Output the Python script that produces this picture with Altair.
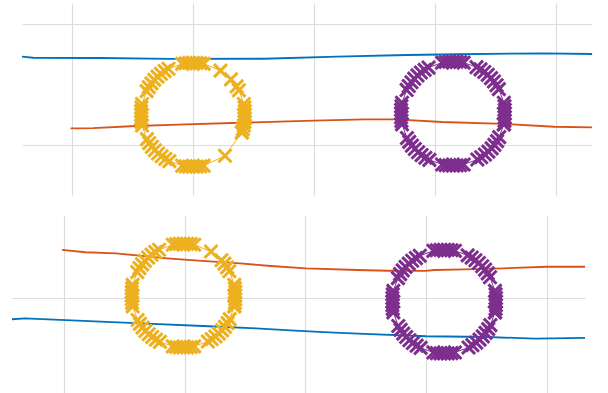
import altair as alt
import pandas as pd

BLUE = "#0072BD"
ORANGE = "#D95319"
YELLOW = "#EDB120"
PURPLE = "#7E2F8E"
GRID = "#dcdcdc"

# ---------------- top panel ----------------
top_blue_x = [-0.414, -0.323, 0.232, 0.811, 1.588, 2.192, 2.771, 3.184, 3.896, 4.301]
top_blue_y = [0.730, 0.721, 0.719, 0.711, 0.713, 0.730, 0.744, 0.750, 0.758, 0.752]

top_orange_x = [-0.012, 0.174, 0.529, 0.877, 1.390, 2.002, 2.415, 2.672, 3.060, 3.573, 3.987, 4.301]
top_orange_y = [0.138, 0.140, 0.157, 0.168, 0.184, 0.201, 0.212, 0.212, 0.190, 0.174, 0.151, 0.146]

top_yellow_x = [1.404, 1.413, 1.421, 1.426, 1.429, 1.430, 1.429, 1.426, 1.421, 1.380, 1.361, 1.315, 1.228,
                1.089, 1.060, 1.030, 1.000, 0.970, 0.940, 0.911, 0.798, 0.766, 0.735, 0.707, 0.680, 0.657,
                0.635, 0.617, 0.579, 0.574, 0.571, 0.570, 0.571, 0.574, 0.579, 0.620, 0.639, 0.661, 0.685,
                0.712, 0.741, 0.772, 0.805, 0.911, 0.940, 0.970, 1.000, 1.030, 1.060, 1.089, 1.265, 1.404]
top_yellow_y = [0.103, 0.131, 0.161, 0.190, 0.220, 0.250, 0.280, 0.310, 0.339, 0.452, 0.484, 0.543, 0.615,
                0.671, 0.676, 0.679, 0.680, 0.679, 0.676, 0.671, 0.630, 0.611, 0.589, 0.565, 0.538, 0.509,
                0.478, 0.445, 0.339, 0.310, 0.280, 0.250, 0.220, 0.190, 0.161, 0.048, 0.016, -0.015, -0.043,
                -0.070, -0.093, -0.115, -0.133, -0.171, -0.176, -0.179, -0.180, -0.179, -0.176, -0.171, -0.089, 0.103]

top_purple_x = [3.571, 3.576, 3.579, 3.580, 3.579, 3.576, 3.571, 3.530, 3.511, 3.489, 3.465, 3.438, 3.409,
                3.378, 3.345, 3.239, 3.210, 3.180, 3.150, 3.120, 3.090, 3.061, 2.948, 2.916, 2.885, 2.857,
                2.830, 2.807, 2.785, 2.767, 2.729, 2.724, 2.721, 2.720, 2.721, 2.724, 2.729, 2.770, 2.789,
                2.811, 2.835, 2.862, 2.891, 2.922, 2.955, 3.061, 3.090, 3.120, 3.150, 3.180, 3.210, 3.239,
                3.352, 3.384, 3.415, 3.443, 3.470, 3.493, 3.515, 3.533, 3.571]
top_purple_y = [0.171, 0.200, 0.230, 0.260, 0.290, 0.320, 0.349, 0.462, 0.494, 0.525, 0.553, 0.580, 0.603,
                0.625, 0.643, 0.681, 0.686, 0.689, 0.690, 0.689, 0.686, 0.681, 0.640, 0.621, 0.599, 0.575,
                0.548, 0.519, 0.488, 0.455, 0.349, 0.320, 0.290, 0.260, 0.230, 0.200, 0.171, 0.058, 0.026,
                -0.005, -0.033, -0.060, -0.083, -0.105, -0.123, -0.161, -0.166, -0.169, -0.170, -0.169, -0.166,
                -0.161, -0.120, -0.101, -0.079, -0.055, -0.028, 0.001, 0.032, 0.065, 0.171]

# ---------------- bottom panel ----------------
bot_blue_x = [-0.431, -0.323, 0.112, 0.688, 1.201, 1.591, 1.914, 2.196, 2.485, 2.999, 3.513, 3.902, 4.317]
bot_blue_y = [-0.176, -0.168, -0.188, -0.213, -0.234, -0.251, -0.271, -0.284, -0.298, -0.317, -0.323, -0.337, -0.331]

bot_orange_x = [-0.017, 0.176, 0.431, 0.853, 1.143, 1.458, 1.715, 2.005, 2.428, 2.684, 2.999, 3.065, 3.322,
                3.645, 4.002, 4.317]
bot_orange_y = [0.398, 0.379, 0.370, 0.329, 0.307, 0.287, 0.265, 0.246, 0.232, 0.226, 0.224, 0.232, 0.238,
                0.246, 0.259, 0.259]

bot_yellow_x = [1.411, 1.416, 1.419, 1.420, 1.419, 1.416, 1.411, 1.370, 1.351, 1.329, 1.305, 1.218, 1.079,
                1.050, 1.020, 0.990, 0.960, 0.930, 0.901, 0.788, 0.756, 0.725, 0.697, 0.670, 0.647, 0.625,
                0.607, 0.569, 0.564, 0.561, 0.560, 0.561, 0.564, 0.569, 0.610, 0.629, 0.651, 0.675, 0.702,
                0.731, 0.762, 0.795, 0.901, 0.930, 0.960, 0.990, 1.020, 1.050, 1.079, 1.192, 1.224, 1.255,
                1.283, 1.310, 1.333, 1.355, 1.373, 1.411]
bot_yellow_y = [-0.069, -0.040, -0.010, 0.020, 0.050, 0.080, 0.109, 0.222, 0.254, 0.285, 0.313, 0.385, 0.441,
                0.446, 0.449, 0.450, 0.449, 0.446, 0.441, 0.400, 0.381, 0.359, 0.335, 0.308, 0.279, 0.248,
                0.215, 0.109, 0.080, 0.050, 0.020, -0.010, -0.040, -0.069, -0.182, -0.214, -0.245, -0.273,
                -0.300, -0.323, -0.345, -0.363, -0.401, -0.406, -0.409, -0.410, -0.409, -0.406, -0.401, -0.360,
                -0.341, -0.319, -0.295, -0.268, -0.239, -0.208, -0.175, -0.069]

bot_purple_x = [3.571, 3.576, 3.579, 3.580, 3.579, 3.576, 3.571, 3.530, 3.511, 3.489, 3.465, 3.438, 3.409,
                3.378, 3.345, 3.239, 3.210, 3.180, 3.150, 3.120, 3.090, 3.061, 2.948, 2.916, 2.885, 2.857,
                2.830, 2.807, 2.785, 2.767, 2.729, 2.724, 2.721, 2.720, 2.721, 2.724, 2.729, 2.770, 2.789,
                2.811, 2.835, 2.862, 2.891, 2.922, 2.955, 3.061, 3.090, 3.120, 3.150, 3.180, 3.210, 3.239,
                3.352, 3.384, 3.415, 3.443, 3.470, 3.493, 3.515, 3.533, 3.571]
bot_purple_y = [-0.119, -0.090, -0.060, -0.030, 0.000, 0.030, 0.059, 0.172, 0.204, 0.235, 0.263, 0.290, 0.313,
                0.335, 0.353, 0.391, 0.396, 0.399, 0.400, 0.399, 0.396, 0.391, 0.350, 0.331, 0.309, 0.285,
                0.258, 0.229, 0.198, 0.165, 0.059, 0.030, 0.000, -0.030, -0.060, -0.090, -0.119, -0.232,
                -0.264, -0.295, -0.323, -0.350, -0.373, -0.395, -0.413, -0.451, -0.456, -0.459, -0.460, -0.459,
                -0.456, -0.451, -0.410, -0.391, -0.369, -0.345, -0.318, -0.289, -0.258, -0.225, -0.119]

X_TICKS = [0, 1, 2, 3, 4]
SERIES = ["blue", "orange", "yellow", "purple"]
COLORS = [BLUE, ORANGE, YELLOW, PURPLE]
X_SHAPE = "M-1,-1L1,1M-1,1L1,-1"


def frame(name, xs, ys):
    return pd.DataFrame({"s": name, "i": list(range(len(xs))), "x": xs, "y": ys})


def panel(lines, circles, xdom, ydom, yticks, w, h):
    dl = pd.concat([frame(n, a, b) for n, a, b in lines], ignore_index=True)
    dc = pd.concat([frame(n, a, b) for n, a, b in circles], ignore_index=True)
    axis_common = dict(labels=False, ticks=False, domain=False, title=None,
                       grid=True, gridColor=GRID, gridWidth=1.2)
    x = alt.X("x:Q", scale=alt.Scale(domain=xdom, nice=False, zero=False),
              axis=alt.Axis(values=X_TICKS, **axis_common))
    y = alt.Y("y:Q", scale=alt.Scale(domain=ydom, nice=False, zero=False),
              axis=alt.Axis(values=yticks, **axis_common))
    color = alt.Color("s:N", scale=alt.Scale(domain=SERIES, range=COLORS), legend=None)
    order = alt.Order("i:Q")
    l1 = alt.Chart(dl).mark_line(strokeWidth=1.8).encode(x=x, y=y, color=color, order=order, detail="s:N")
    l2 = alt.Chart(dc).mark_line(strokeWidth=1).encode(x=x, y=y, color=color, order=order, detail="s:N")
    pts = alt.Chart(dc).mark_point(shape=X_SHAPE, filled=False, strokeWidth=3, size=170,
                                   opacity=1).encode(x=x, y=y, color=color)
    return alt.layer(l1, l2, pts).properties(width=w, height=h)


top = panel(
    [("blue", top_blue_x, top_blue_y), ("orange", top_orange_x, top_orange_y)],
    [("yellow", top_yellow_x, top_yellow_y), ("purple", top_purple_x, top_purple_y)],
    [-0.4135, 4.300], [-0.4132, 1.1736], [0, 1], 570, 192,
)
bottom = panel(
    [("blue", bot_blue_x, bot_blue_y), ("orange", bot_orange_x, bot_orange_y)],
    [("yellow", bot_yellow_x, bot_yellow_y), ("purple", bot_purple_x, bot_purple_y)],
    [-0.4309, 4.317], [-0.787, 0.6877], [0], 573, 178,
)

spacer = alt.Chart(pd.DataFrame({"v": [0]})).mark_point(opacity=0).encode(
    x=alt.value(0), y=alt.value(0)
).properties(width=6, height=192)

row = alt.hconcat(spacer, top, spacing=0)
chart = alt.vconcat(row, bottom, spacing=20).properties(
    padding={"left": 8, "top": 0, "right": 0, "bottom": 0}
).configure_view(stroke=None)

chart.save("out.html", embed_options={"renderer": "svg", "actions": False})
